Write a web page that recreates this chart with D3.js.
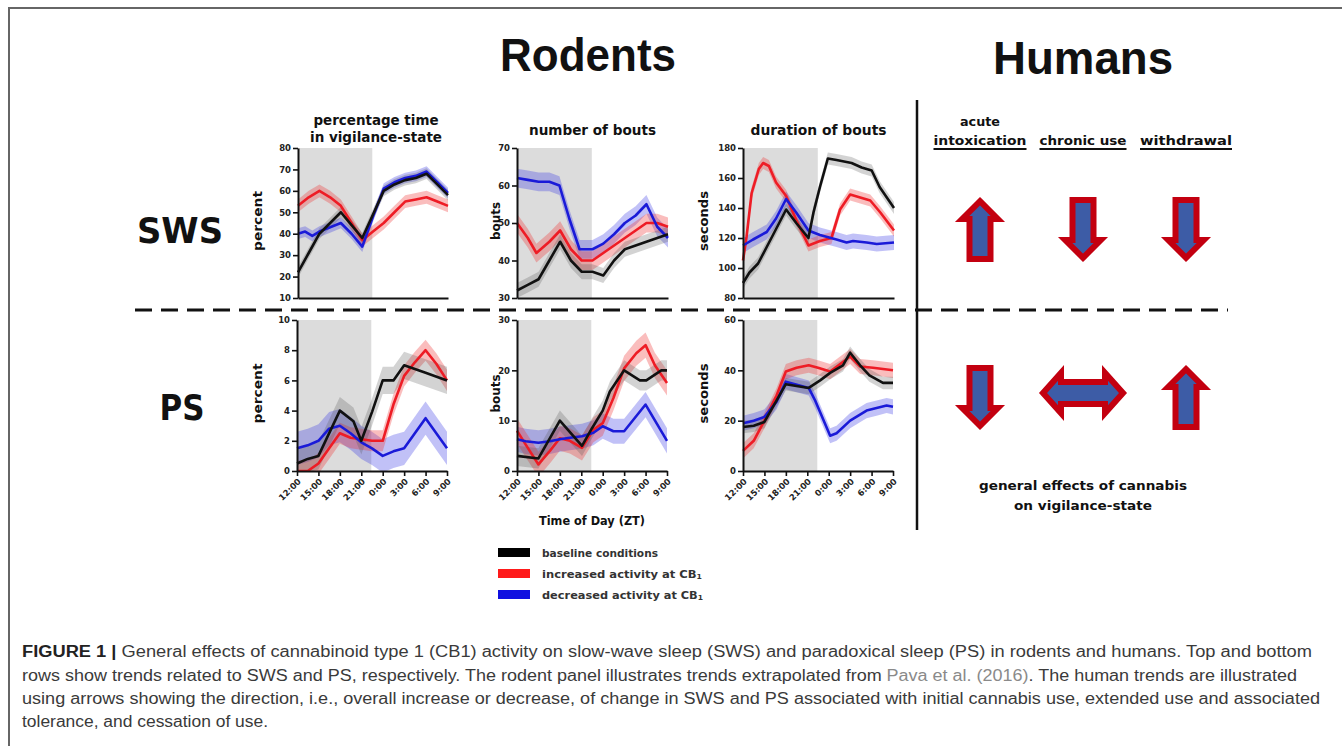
<!DOCTYPE html>
<html><head><meta charset="utf-8">
<script src="https://cdn.jsdelivr.net/npm/d3@7"></script>
<style>body{margin:0;background:#fff;} svg{display:block;}</style>
</head><body><svg id="c" width="1342" height="746"></svg>
<script>
// ---------- data ----------
const timeTickLabels = ["12:00","15:00","18:00","21:00","0:00","3:00","6:00","9:00"];
const timeTickHours = [0,3,6,9,12,15,18,21];
const darkPhaseEnd = 10.4;
const seriesNames = ["baseline conditions","increased activity at CB","decreased activity at CB"];

const swsPctTicks = [10,20,30,40,50,60,70,80];
const swsBoutTicks = [30,40,50,60,70];
const swsDurTicks = [80,100,120,140,160,180];
const psPctTicks = [0,2,4,6,8,10];
const psBoutTicks = [0,10,20,30];
const psDurTicks = [0,20,40,60];

const swsPctBaseline = [[0,22],[1.5,31],[3,40],[4.5,45],[6,50],[7.5,44],[9,38],[10.5,49],[12,60],[13.5,63],[15,65],[16.5,66],[18,68],[19.5,63],[21,58]];
const swsPctIncreased = [[0,53],[1.5,57],[3,60],[4.5,57],[6,53],[7.5,45],[9,37],[10.5,41],[12,45],[13.5,50],[15,55],[16.5,56],[18,57],[19.5,55],[21,53]];
const swsPctDecreased = [[0,40],[1,41],[2,39],[3,41],[4.5,43],[6,45],[7.5,40],[9,34],[10.5,48],[12,61],[13.5,64],[15,66],[16.5,67],[18,69],[19.5,64],[21,59]];
const swsPctSem = [2.5,3,2.5];

const swsBoutBaseline = [[0,32],[1.5,33.5],[3,35],[4.5,40],[6,45],[7.5,40],[9,37],[10.5,37],[12,36],[13.5,40],[15,43],[16.5,44],[18,45],[19.5,46],[21,47]];
const swsBoutIncreased = [[0,50],[1.5,46],[2.7,42],[4.5,45],[6,48],[7.5,43],[9,40],[10.5,40],[12,42],[13.5,44],[15,46],[16.5,48],[18,50],[19.5,50],[21,49]];
const swsBoutDecreased = [[0,62],[1.5,61.5],[3,61],[4.5,61],[5.9,60],[7.3,51],[8.7,43],[10.5,43],[12,44.5],[13.5,47],[15,50],[16.5,52],[18,55],[19.5,49],[21,46]];
const swsBoutSem = [2,2.5,2.5];

const swsDurBaseline = [[0,90],[0.9,97],[2.1,103],[3.3,114],[4.6,126],[6,139],[7.4,130],[9.1,120],[9.8,137],[10.7,154],[11.8,173],[13,172],[15.1,170],[16.5,167],[17.9,165],[19,154],[21,140]];
const swsDurIncreased = [[0,105],[0.5,121],[1.2,150],[2.2,166],[2.8,170],[3.6,168],[4.6,157],[6,148],[7.4,132],[9.1,115],[10.7,118],[12.3,120],[13.5,139],[14.9,149],[16.3,147],[17.7,145],[19.1,137],[21,125]];
const swsDurDecreased = [[0,115],[1.4,119],[3.3,124],[4.6,133],[6,146],[7.4,137],[9.1,125],[10.7,122],[13,119],[14.4,117],[15.3,118],[17.2,117],[18.6,116],[21,117]];
const swsDurSem = [4,4,5];

const psPctBaseline = [[0,0.5],[1.5,0.8],[3,1],[6,4],[7.9,3.3],[9,2],[10.5,3.9],[12,6],[13.5,6],[15,7],[16.8,6.7],[18,6.5],[21,6]];
const psPctIncreased = [[0,0],[1.5,0],[3,0.5],[4.5,1.5],[6,2.5],[7.5,2.2],[9,2.1],[10.5,2],[12,2],[13.5,4.4],[15,6.3],[16.5,7.2],[18,8],[19.5,7.1],[21,6]];
const psPctDecreased = [[0,1.5],[1.5,1.7],[3,2],[4.5,2.8],[6,3],[7.5,2.5],[9,1.9],[10.5,1.5],[12,1],[13.5,1.3],[15,1.5],[18,3.5],[21,1.5]];
const psPctSem = [0.9,0.7,1.1];

const psBoutBaseline = [[0,3],[3,2.5],[6,10],[9.1,5],[10.5,8.5],[12,12],[13,15.8],[15,20],[17.2,18],[18.1,18],[20.2,20],[21,20]];
const psBoutIncreased = [[0,8],[1.2,5.3],[3,1.3],[4.6,4],[6,6.5],[7.4,6],[9.1,4.6],[10.7,8.2],[12,9.5],[13.5,14.5],[15,20.4],[16.7,23.4],[18,25],[19.3,21],[21,17.5]];
const psBoutDecreased = [[0,6.3],[1.2,5.9],[3,5.6],[4.6,5.9],[6,6.3],[7.4,6.6],[9.1,6.9],[10.7,7.6],[12,8.9],[13.5,7.9],[15,7.9],[18,13.2],[21,6]];
const psBoutSem = [2,2.5,2.5];

const psDurBaseline = [[0,17.5],[1.5,18],[3,19.5],[6,34.5],[9.2,33],[10.8,36],[12.2,39],[14,42],[15,47],[16.4,42],[17.7,38],[19.6,35],[21,35]];
const psDurIncreased = [[0,8],[1.5,12],[3,20],[4.7,30],[6,39.5],[7.5,41],[9.2,42],[10.5,41],[12.2,39.5],[15,45.5],[16.4,41.5],[18.2,41],[21,40]];
const psDurDecreased = [[0,19],[1.5,20],[3,21.5],[4.7,27.5],[6,35.5],[9.2,33],[10.1,28],[12.2,14],[13.1,15],[15,20],[17.3,24],[18.7,25],[20.1,26],[21,25.5]];
const psDurSem = [2.5,3,3];

const humanColumns = ["intoxication","chronic use","withdrawal"];
const humanSWS = ["up","down","down"];
const humanPS = ["down","both","up"];

// ---------- drawing ----------
const svg = d3.select("#c");
const FIG = "'Liberation Sans', Arial, sans-serif";
const BOLD = "'DejaVu Sans', 'Liberation Sans', sans-serif";

function txt(g, x, y, s, o = {}) {
  const t = g.append("text").attr("x", x).attr("y", y).text(s)
    .attr("font-family", o.family || BOLD)
    .attr("font-size", o.size || 12)
    .attr("font-weight", o.weight || "bold")
    .attr("fill", o.fill || "#111")
    .attr("text-anchor", o.anchor || "middle");
  if (o.rotate) t.attr("transform", `rotate(${o.rotate},${x},${y})`);
  if (o.width) t.attr("textLength", o.width).attr("lengthAdjust", "spacingAndGlyphs");
  return t;
}

// frame
svg.append("path").attr("d", "M9,746 V8 H1342").attr("fill", "none").attr("stroke", "#666").attr("stroke-width", 2);

// big titles
txt(svg, 588, 71, "Rodents", {family: "'Liberation Sans Narrow', 'Liberation Sans', sans-serif", size: 46, width: 176});
txt(svg, 1083, 74, "Humans", {family: "'Liberation Sans Narrow', 'Liberation Sans', sans-serif", size: 46, width: 180});
txt(svg, 180, 243, "SWS", {size: 36, width: 86});
txt(svg, 182, 420, "PS", {size: 36, width: 45});

// separators
svg.append("line").attr("x1", 135).attr("x2", 1228).attr("y1", 310).attr("y2", 310)
  .attr("stroke", "#111").attr("stroke-width", 3).attr("stroke-dasharray", "17,9");
svg.append("line").attr("x1", 917).attr("x2", 917).attr("y1", 100).attr("y2", 530)
  .attr("stroke", "#111").attr("stroke-width", 2.5);

const colors = ["#111111", "#ee1c25", "#1a1ad8"];
const bandColors = ["rgba(80,80,80,0.25)", "rgba(240,50,50,0.32)", "rgba(50,50,230,0.3)"];

const panels = [
  {x0: 298, x1: 448, yT: 148, yB: 298, dom: [10, 80], ticks: swsPctTicks, series: [swsPctBaseline, swsPctIncreased, swsPctDecreased], sem: swsPctSem, label: "percent", lx: 262, lw: 60, title: ["percentage time", "in vigilance-state"], tw: [125, 132], bottom: false},
  {x0: 517, x1: 668, yT: 148, yB: 298, dom: [30, 70], ticks: swsBoutTicks, series: [swsBoutBaseline, swsBoutIncreased, swsBoutDecreased], sem: swsBoutSem, label: "bouts", lx: 500, lw: 38, title: ["number of bouts"], tw: [127], bottom: false},
  {x0: 743, x1: 894, yT: 148, yB: 298, dom: [80, 180], ticks: swsDurTicks, series: [swsDurBaseline, swsDurIncreased, swsDurDecreased], sem: swsDurSem, label: "seconds", lx: 708, lw: 60, title: ["duration of bouts"], tw: [136], bottom: false},
  {x0: 297, x1: 447, yT: 320, yB: 471, dom: [0, 10], ticks: psPctTicks, series: [psPctBaseline, psPctIncreased, psPctDecreased], sem: psPctSem, label: "percent", lx: 262, lw: 60, bottom: true},
  {x0: 517, x1: 667, yT: 320, yB: 471, dom: [0, 30], ticks: psBoutTicks, series: [psBoutBaseline, psBoutIncreased, psBoutDecreased], sem: psBoutSem, label: "bouts", lx: 500, lw: 38, bottom: true},
  {x0: 743, x1: 893, yT: 320, yB: 471, dom: [0, 60], ticks: psDurTicks, series: [psDurBaseline, psDurIncreased, psDurDecreased], sem: psDurSem, label: "seconds", lx: 708, lw: 60, bottom: true}
];

panels.forEach(p => {
  const g = svg.append("g");
  const x = d3.scaleLinear().domain([0, 21]).range([p.x0, p.x1]);
  const y = d3.scaleLinear().domain(p.dom).range([p.yB, p.yT]);
  g.append("rect").attr("x", x(0)).attr("y", p.yT).attr("width", x(darkPhaseEnd) - x(0)).attr("height", p.yB - p.yT).attr("fill", "#dcdcdc");
  const clip = "clip" + p.x0 + p.yT;
  g.append("clipPath").attr("id", clip).append("rect").attr("x", p.x0 - 2).attr("y", p.yT - 6).attr("width", p.x1 - p.x0 + 6).attr("height", p.yB - p.yT + 6);
  const plot = g.append("g").attr("clip-path", `url(#${clip})`);
  [2, 1, 0].forEach(i => {
    const area = d3.area().x(d => x(d[0])).y0(d => y(d[1] - p.sem[i])).y1(d => y(d[1] + p.sem[i]));
    plot.append("path").attr("d", area(p.series[i])).attr("fill", bandColors[i]);
  });
  [1, 2, 0].forEach(i => {
    const line = d3.line().x(d => x(d[0])).y(d => y(d[1]));
    plot.append("path").attr("d", line(p.series[i])).attr("fill", "none").attr("stroke", colors[i]).attr("stroke-width", 2.6).attr("stroke-linejoin", "round");
  });
  const ya = g.append("g").attr("transform", `translate(${p.x0},0)`).call(d3.axisLeft(y).tickValues(p.ticks).tickSize(5).tickSizeOuter(0).tickPadding(2));
  ya.select(".domain").attr("stroke-width", 2).attr("stroke", "#111");
  ya.selectAll(".tick line").attr("stroke-width", 1.6).attr("stroke", "#111");
  ya.selectAll(".tick text").attr("font-family", BOLD).attr("font-weight", "bold").attr("font-size", 8.5).attr("fill", "#222");
  const xa = g.append("g").attr("transform", `translate(0,${p.yB})`).call(d3.axisBottom(x).tickValues(timeTickHours).tickSize(p.bottom ? 5 : 0).tickSizeOuter(0).tickFormat((d, i) => timeTickLabels[i]));
  xa.select(".domain").attr("stroke-width", 2).attr("stroke", "#111");
  xa.selectAll(".tick line").attr("stroke-width", 1.6).attr("stroke", "#111");
  if (p.bottom) {
    xa.selectAll(".tick text").attr("font-family", BOLD).attr("font-weight", "bold").attr("font-size", 8.5).attr("fill", "#222")
      .attr("text-anchor", "end").attr("dy", 0).attr("y", 0)
      .attr("transform", "translate(4,11) rotate(-45)");
  } else {
    xa.selectAll(".tick text").remove();
  }
  const cy = (p.yT + p.yB) / 2;
  txt(g, p.lx, cy - 2, p.label, {size: 13, rotate: -90, width: p.lw});
  if (p.title) {
    const base = p.title.length === 2 ? 125 : 135;
    p.title.forEach((s, i) => txt(g, (p.x0 + p.x1) / 2 + (p.title.length === 2 ? 3 : 0), base + i * 17, s, {size: 13.5, width: p.tw[i]}));
  }
});

txt(svg, 592, 525, "Time of Day (ZT)", {size: 12.5, width: 106});

// legend
const legY = [553, 574, 595];
const legW = [116, 160, 161];
const legColors = ["#000000", "#ff1a1a", "#1010e0"];
seriesNames.forEach((s, i) => {
  svg.append("rect").attr("x", 498).attr("y", legY[i] - 5).attr("width", 32).attr("height", 9).attr("fill", legColors[i]);
  const t = txt(svg, 542, legY[i] + 4, s, {size: 10.5, anchor: "start", fill: "#333"});
  if (i > 0) t.append("tspan").attr("font-size", 7).attr("dy", 1).text("1");
  t.attr("textLength", legW[i]).attr("lengthAdjust", "spacingAndGlyphs");
});

// humans headers
const colX = [980, 1083, 1186];
const colW = [93, 87, 92];
txt(svg, 980, 126, "acute", {size: 12.5, width: 40});
humanColumns.forEach((s, i) => {
  txt(svg, colX[i], 145, s, {size: 12.5, width: colW[i]});
  svg.append("line").attr("x1", colX[i] - colW[i] / 2).attr("x2", colX[i] + colW[i] / 2).attr("y1", 149).attr("y2", 149).attr("stroke", "#111").attr("stroke-width", 2);
});

// arrows: path is the stroke centreline; a 6px red stroke recovers the outer outline
function arrowPoints(type) {
  if (type === "both") {
    return [[-40,0],[-22,-20.1],[-22,-11],[22,-11],[22,-20.1],[40,0],[22,20.1],[22,11],[-22,11],[-22,20.1]];
  }
  const up = [[0,-28.3],[17.8,-10.5],[10.5,-10.5],[10.5,29.5],[-10.5,29.5],[-10.5,-10.5],[-17.8,-10.5]];
  return type === "up" ? up : up.map(d => [d[0], -d[1]]);
}
function drawArrow(type, cx, cy) {
  svg.append("path").attr("d", d3.line()(arrowPoints(type).map(d => [cx + d[0], cy + d[1]])) + "Z")
    .attr("fill", "#3d5ca6").attr("stroke", "#c30010").attr("stroke-width", 6).attr("stroke-linejoin", "miter");
}
humanSWS.forEach((t, i) => drawArrow(t, colX[i], 229.5));
humanPS.forEach((t, i) => drawArrow(t, colX[i], t === "both" ? 393 : 397.5));

txt(svg, 1083, 490, "general effects of cannabis", {size: 12.5, width: 208});
txt(svg, 1083, 510, "on vigilance-state", {size: 12.5, width: 138});

// caption
const cap = svg.append("g").attr("font-family", FIG).attr("font-size", 16).attr("fill", "#3a3a3a");
function capLine(y, parts, w) {
  const t = cap.append("text").attr("x", 22).attr("y", y);
  parts.forEach(p => {
    const s = t.append("tspan").text(p[0]);
    if (p[1] === "b") s.attr("font-weight", "bold").attr("fill", "#222");
    if (p[1] === "g") s.attr("fill", "#8a8a8a");
  });
  if (w) t.attr("textLength", w).attr("lengthAdjust", "spacingAndGlyphs");
}
capLine(657, [["FIGURE 1", "b"], [" | ", "b"], ["General effects of cannabinoid type 1 (CB1) activity on slow-wave sleep (SWS) and paradoxical sleep (PS) in rodents and humans. Top and bottom"]], 1290);
capLine(681, [["rows show trends related to SWS and PS, respectively. The rodent panel illustrates trends extrapolated from "], ["Pava et al. (2016)", "g"], [". The human trends are illustrated"]], 1275);
capLine(704, [["using arrows showing the direction, i.e., overall increase or decrease, of change in SWS and PS associated with initial cannabis use, extended use and associated"]], 1298);
capLine(727, [["tolerance, and cessation of use."]], 246);
</script></body></html>
